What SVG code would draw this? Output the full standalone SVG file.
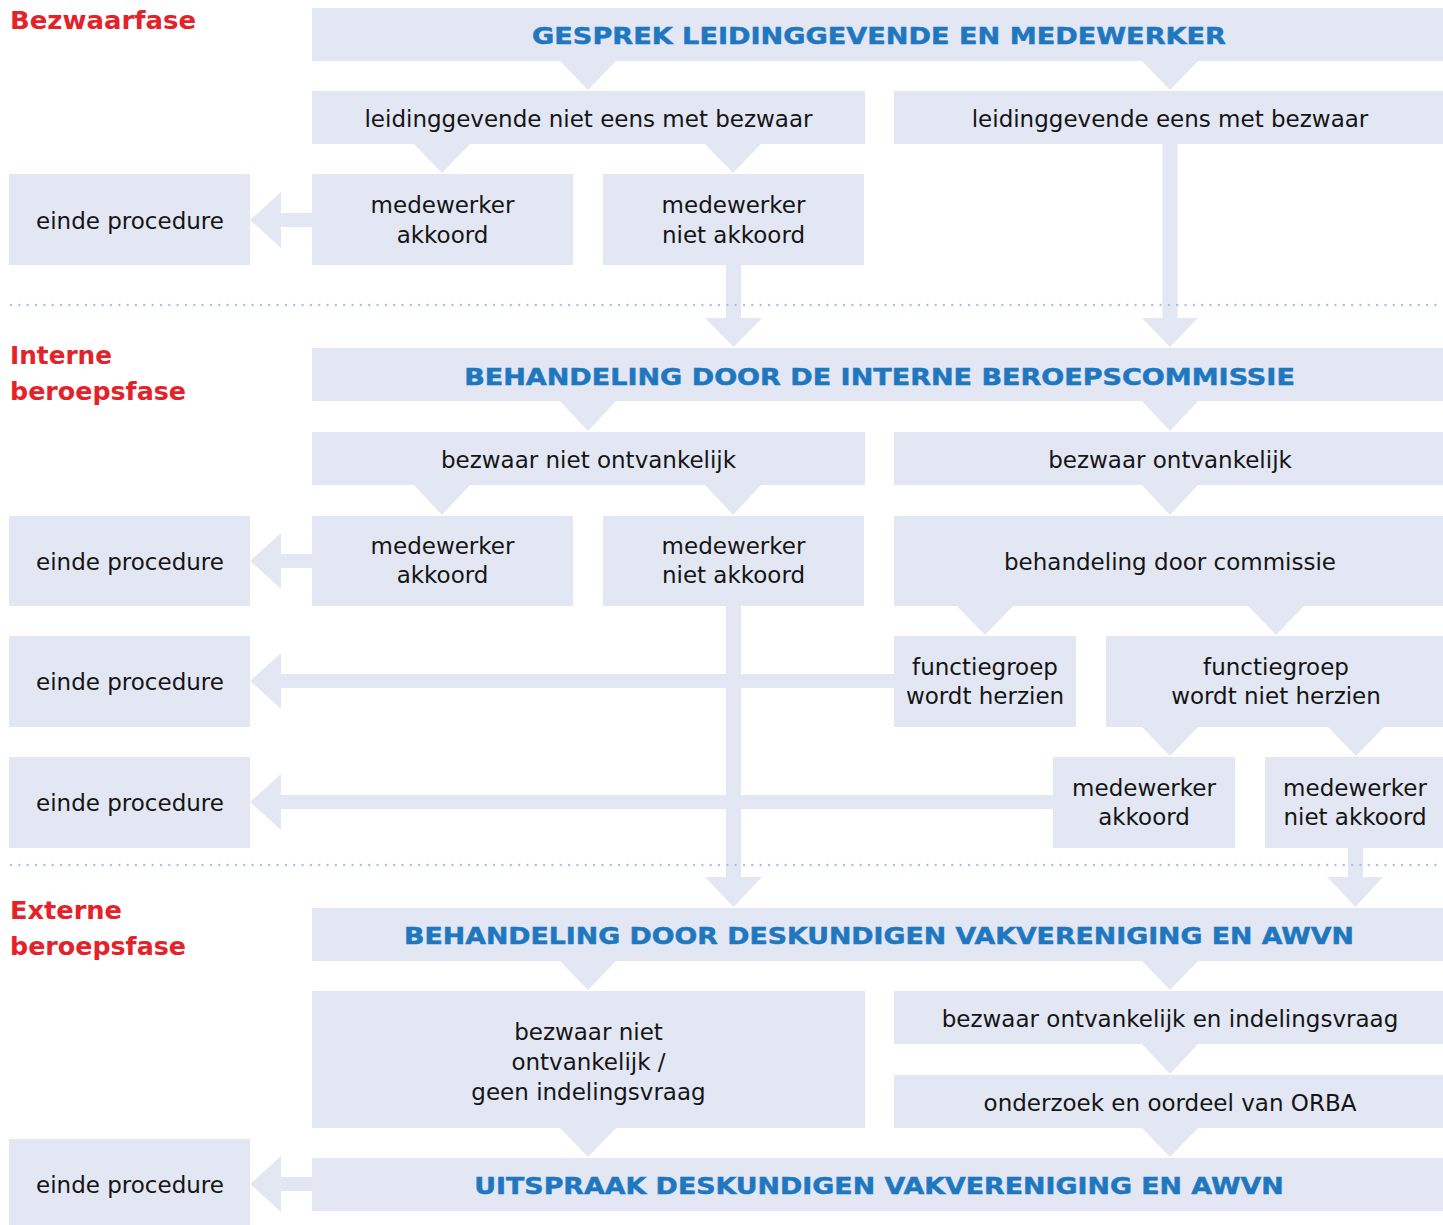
<svg xmlns="http://www.w3.org/2000/svg" width="1443" height="1225" viewBox="0 0 1443 1225">
<style>
.b{fill:#e3e7f4}
.c{fill:#e3e7f4}
.t{font-family:"DejaVu Sans",Verdana,sans-serif;font-size:23px;fill:#151515;text-anchor:middle}
.h{font-family:"DejaVu Sans",Verdana,sans-serif;font-weight:bold;font-size:23px;fill:#1f77c0;stroke:#1f77c0;stroke-width:0.5;text-anchor:middle}
.r{font-family:"DejaVu Sans",Verdana,sans-serif;font-weight:bold;font-size:25px;fill:#e42229}
.d{stroke:#a9c0e6;stroke-width:2.4;stroke-linecap:round;stroke-dasharray:0 8.33;fill:none}
</style>
<rect width="1443" height="1225" fill="#ffffff"/>

<g id="phase-labels">
<text class="r" x="10" y="29" textLength="186" lengthAdjust="spacingAndGlyphs">Bezwaarfase</text>
<text class="r" x="10" y="364" textLength="102" lengthAdjust="spacingAndGlyphs">Interne</text>
<text class="r" x="10" y="400" textLength="176" lengthAdjust="spacingAndGlyphs">beroepsfase</text>
<text class="r" x="10" y="919" textLength="112" lengthAdjust="spacingAndGlyphs">Externe</text>
<text class="r" x="10" y="955" textLength="176" lengthAdjust="spacingAndGlyphs">beroepsfase</text>
</g>

<g id="connectors">
<polygon class="c" points="560,61 616,61 588,90"/>
<polygon class="c" points="1142,61 1198,61 1170,90"/>
<polygon class="c" points="414,144 470,144 442,173"/>
<polygon class="c" points="705,144 761,144 733,173"/>
<polygon class="c" points="1162.5,144 1177.5,144 1177.5,318 1198,318 1170,347 1142,318 1162.5,318"/>
<polygon class="c" points="312,213 281,213 281,192 250,220 281,248 281,227 312,227"/>
<polygon class="c" points="726,265 741,265 741,318 762,318 733.5,347 705,318 726,318"/>
<polygon class="c" points="560,401 616,401 588,431"/>
<polygon class="c" points="1142,401 1198,401 1170,431"/>
<polygon class="c" points="414,485 470,485 442,515"/>
<polygon class="c" points="705,485 761,485 733,515"/>
<polygon class="c" points="1142,485 1198,485 1170,515"/>
<polygon class="c" points="312,554 281,554 281,533 250,561 281,589 281,568 312,568"/>
<polygon class="c" points="957,606 1013,606 985,635"/>
<polygon class="c" points="1248,606 1304,606 1276,635"/>
<polygon class="c" points="894,674 281,674 281,653 250,681 281,709 281,688 894,688"/>
<polygon class="c" points="726,606 741,606 741,877 762,877 733.5,907 705,877 726,877"/>
<polygon class="c" points="1142,727 1198,727 1170,756"/>
<polygon class="c" points="1328,727 1384,727 1356,756"/>
<polygon class="c" points="1053,795 281,795 281,774 250,802 281,830 281,809 1053,809"/>
<polygon class="c" points="1348,848 1363,848 1363,877 1383,877 1355.5,907 1327,877 1348,877"/>
<polygon class="c" points="560,961 616,961 588,990"/>
<polygon class="c" points="1142,961 1198,961 1170,990"/>
<polygon class="c" points="1142,1044 1198,1044 1170,1074"/>
<polygon class="c" points="560,1128 616,1128 588,1157"/>
<polygon class="c" points="1142,1128 1198,1128 1170,1157"/>
<polygon class="c" points="312,1177 281,1177 281,1156 250,1184 281,1212 281,1191 312,1191"/>
</g>

<g id="separators">
<line class="d" x1="11" y1="305" x2="1440" y2="305"/>
<line class="d" x1="11" y1="865" x2="1440" y2="865"/>
</g>

<g id="n-gesprek"><rect class="b" x="312" y="8" width="1131" height="53"/><text class="h" transform="translate(879,44) scale(1.18,1)" x="0" y="0" textLength="588" lengthAdjust="spacingAndGlyphs">GESPREK LEIDINGGEVENDE EN MEDEWERKER</text></g>
<g id="n-lg-niet-eens"><rect class="b" x="312" y="91" width="553" height="53"/><text class="t" x="588.5" y="127">leidinggevende niet eens met bezwaar</text></g>
<g id="n-lg-eens"><rect class="b" x="894" y="91" width="549" height="53"/><text class="t" x="1170" y="127">leidinggevende eens met bezwaar</text></g>
<g id="n-einde-1"><rect class="b" x="9" y="174" width="241" height="91"/><text class="t" x="130" y="229">einde procedure</text></g>
<g id="n-mw-akkoord-1"><rect class="b" x="312" y="174" width="261" height="91"/><text class="t" x="442.5" y="213">medewerker</text><text class="t" x="442.5" y="243">akkoord</text></g>
<g id="n-mw-niet-akkoord-1"><rect class="b" x="603" y="174" width="261" height="91"/><text class="t" x="733.5" y="213">medewerker</text><text class="t" x="733.5" y="243">niet akkoord</text></g>

<g id="n-ibc"><rect class="b" x="312" y="348" width="1131" height="53"/><text class="h" transform="translate(879.5,385) scale(1.18,1)" x="0" y="0" textLength="704" lengthAdjust="spacingAndGlyphs">BEHANDELING DOOR DE INTERNE BEROEPSCOMMISSIE</text></g>
<g id="n-niet-ontvankelijk"><rect class="b" x="312" y="432" width="553" height="53"/><text class="t" x="588.5" y="468">bezwaar niet ontvankelijk</text></g>
<g id="n-ontvankelijk"><rect class="b" x="894" y="432" width="549" height="53"/><text class="t" x="1170" y="468">bezwaar ontvankelijk</text></g>
<g id="n-einde-2"><rect class="b" x="9" y="516" width="241" height="90"/><text class="t" x="130" y="570">einde procedure</text></g>
<g id="n-mw-akkoord-2"><rect class="b" x="312" y="516" width="261" height="90"/><text class="t" x="442.5" y="554">medewerker</text><text class="t" x="442.5" y="583">akkoord</text></g>
<g id="n-mw-niet-akkoord-2"><rect class="b" x="603" y="516" width="261" height="90"/><text class="t" x="733.5" y="554">medewerker</text><text class="t" x="733.5" y="583">niet akkoord</text></g>
<g id="n-behandeling-commissie"><rect class="b" x="894" y="516" width="549" height="90"/><text class="t" x="1170" y="570">behandeling door commissie</text></g>
<g id="n-einde-3"><rect class="b" x="9" y="636" width="241" height="91"/><text class="t" x="130" y="690">einde procedure</text></g>
<g id="n-fg-herzien"><rect class="b" x="894" y="636" width="182" height="91"/><text class="t" x="985" y="675">functiegroep</text><text class="t" x="985" y="704">wordt herzien</text></g>
<g id="n-fg-niet-herzien"><rect class="b" x="1106" y="636" width="337" height="91"/><text class="t" x="1276" y="675">functiegroep</text><text class="t" x="1276" y="704">wordt niet herzien</text></g>
<g id="n-einde-4"><rect class="b" x="9" y="757" width="241" height="91"/><text class="t" x="130" y="811">einde procedure</text></g>
<g id="n-mw-akkoord-3"><rect class="b" x="1053" y="757" width="182" height="91"/><text class="t" x="1144" y="796">medewerker</text><text class="t" x="1144" y="825">akkoord</text></g>
<g id="n-mw-niet-akkoord-3"><rect class="b" x="1265" y="757" width="178" height="91"/><text class="t" x="1355" y="796">medewerker</text><text class="t" x="1355" y="825">niet akkoord</text></g>

<g id="n-deskundigen"><rect class="b" x="312" y="908" width="1131" height="53"/><text class="h" transform="translate(879,944) scale(1.18,1)" x="0" y="0" textLength="805" lengthAdjust="spacingAndGlyphs">BEHANDELING DOOR DESKUNDIGEN VAKVERENIGING EN AWVN</text></g>
<g id="n-geen-indelingsvraag"><rect class="b" x="312" y="991" width="553" height="137"/><text class="t" x="588.5" y="1040">bezwaar niet</text><text class="t" x="588.5" y="1070">ontvankelijk /</text><text class="t" x="588.5" y="1100">geen indelingsvraag</text></g>
<g id="n-indelingsvraag"><rect class="b" x="894" y="991" width="549" height="53"/><text class="t" x="1170" y="1027">bezwaar ontvankelijk en indelingsvraag</text></g>
<g id="n-orba"><rect class="b" x="894" y="1075" width="549" height="53"/><text class="t" x="1170" y="1111">onderzoek en oordeel van ORBA</text></g>
<g id="n-einde-5"><rect class="b" x="9" y="1139" width="241" height="86"/><text class="t" x="130" y="1193">einde procedure</text></g>
<g id="n-uitspraak"><rect class="b" x="312" y="1158" width="1131" height="53"/><text class="h" transform="translate(879,1194) scale(1.18,1)" x="0" y="0" textLength="686" lengthAdjust="spacingAndGlyphs">UITSPRAAK DESKUNDIGEN VAKVERENIGING EN AWVN</text></g>
</svg>
